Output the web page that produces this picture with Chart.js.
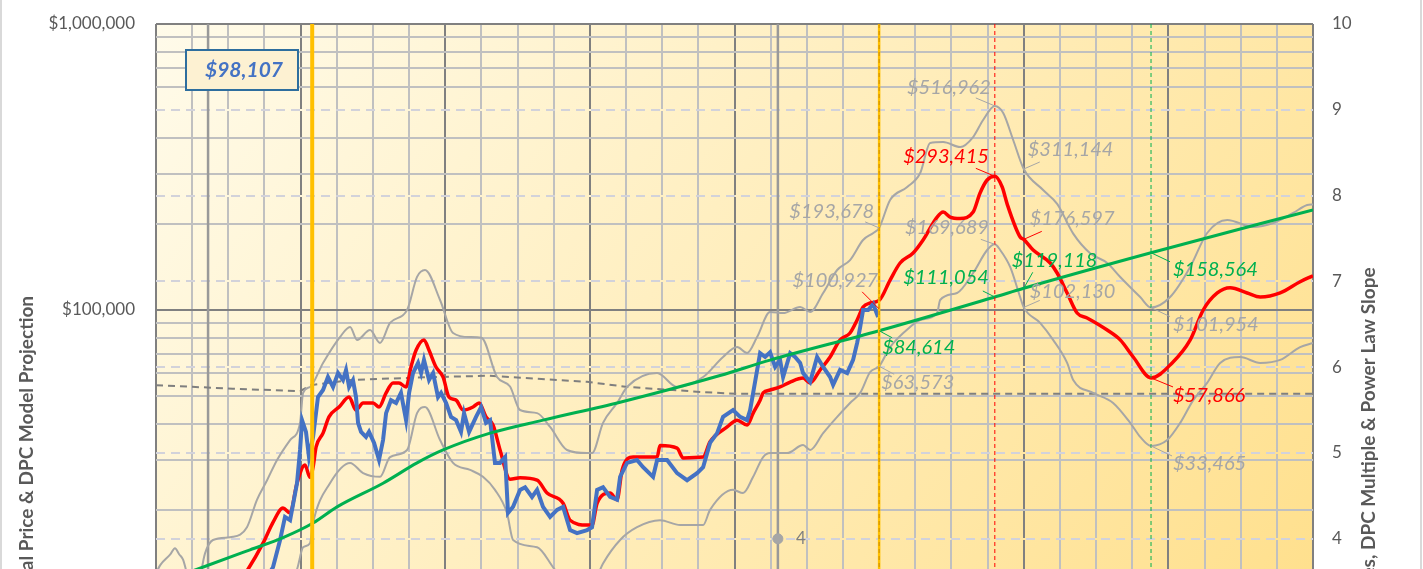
<!DOCTYPE html>
<html>
<head>
<meta charset="utf-8">
<title>DPC Model Projection</title>
<script src="https://cdn.jsdelivr.net/npm/chart.js@4.4.1/dist/chart.umd.min.js"></script>
<style>
html, body { margin: 0; padding: 0; background: #fff; overflow: hidden; }
#wrap { width: 1423px; height: 940px; }
</style>
</head>
<body>
<div id="wrap"><canvas id="myChart" width="1423" height="940"></canvas></div>
<script>
// actual price (blue)
var priceDates = [2020.00, 2020.10, 2020.19, 2020.30, 2020.45, 2020.55, 2020.62, 2020.70, 2020.76, 2020.809, 2020.858, 2020.892, 2020.927, 2020.975, 2020.996, 2021.010, 2021.037, 2021.058, 2021.086, 2021.120, 2021.155, 2021.189, 2021.224, 2021.259, 2021.293, 2021.314, 2021.335, 2021.362, 2021.383, 2021.397, 2021.418, 2021.452, 2021.473, 2021.508, 2021.542, 2021.570, 2021.591, 2021.625, 2021.660, 2021.694, 2021.729, 2021.750, 2021.777, 2021.812, 2021.833, 2021.853, 2021.888, 2021.916, 2021.950, 2021.971, 2022.006, 2022.040, 2022.075, 2022.109, 2022.130, 2022.165, 2022.213, 2022.248, 2022.282, 2022.310, 2022.344, 2022.379, 2022.414, 2022.434, 2022.469, 2022.517, 2022.552, 2022.600, 2022.635, 2022.676, 2022.725, 2022.773, 2022.815, 2022.863, 2022.911, 2022.981, 2023.015, 2023.050, 2023.091, 2023.140, 2023.188, 2023.209, 2023.257, 2023.326, 2023.368, 2023.437, 2023.465, 2023.534, 2023.603, 2023.672, 2023.741, 2023.783, 2023.831, 2023.880, 2023.921, 2023.990, 2024.039, 2024.087, 2024.108, 2024.129, 2024.177, 2024.212, 2024.246, 2024.281, 2024.315, 2024.336, 2024.385, 2024.419, 2024.454, 2024.474, 2024.523, 2024.571, 2024.613, 2024.661, 2024.682, 2024.730, 2024.779, 2024.820, 2024.848, 2024.869, 2024.889, 2024.924, 2024.959, 2024.993];
var priceValues = [7200, 9500, 5000, 8800, 9300, 9200, 11800, 10500, 11500, 12600, 15700, 18900, 18400, 24800, 32400, 41200, 37500, 30600, 36000, 49600, 52500, 58300, 53800, 60200, 56900, 61700, 53800, 56900, 49600, 40300, 37500, 36000, 37500, 34300, 29900, 35100, 43600, 48400, 47300, 51300, 41200, 51300, 60200, 65300, 60200, 66900, 56900, 60200, 49600, 51300, 47300, 42300, 41200, 37500, 43600, 37500, 42300, 45800, 40300, 41200, 29200, 29200, 30600, 19500, 20500, 23500, 24000, 22200, 23500, 20500, 18900, 20000, 20500, 17000, 16600, 17000, 17400, 23500, 24000, 22200, 21700, 26100, 29200, 29900, 28200, 26100, 29900, 29900, 26900, 25400, 26900, 28200, 34300, 37100, 42300, 44700, 42300, 41200, 44700, 51300, 70700, 68500, 71100, 63200, 66900, 58300, 70700, 68500, 65300, 60200, 56000, 68500, 63200, 58300, 54700, 61700, 60200, 66900, 76700, 87200, 100000, 100000, 105000, 94500];

// DPC model projection (red)
var modelDates = [2020.00, 2020.20, 2020.36, 2020.50, 2020.636, 2020.740, 2020.809, 2020.878, 2020.927, 2020.975, 2021.030, 2021.065, 2021.086, 2021.107, 2021.155, 2021.196, 2021.266, 2021.335, 2021.383, 2021.432, 2021.501, 2021.542, 2021.591, 2021.639, 2021.680, 2021.729, 2021.763, 2021.798, 2021.853, 2021.888, 2021.936, 2021.985, 2022.026, 2022.075, 2022.123, 2022.192, 2022.234, 2022.282, 2022.331, 2022.379, 2022.448, 2022.517, 2022.635, 2022.704, 2022.815, 2022.863, 2022.981, 2023.015, 2023.050, 2023.140, 2023.188, 2023.223, 2023.299, 2023.465, 2023.485, 2023.603, 2023.645, 2023.783, 2023.831, 2023.949, 2024.018, 2024.087, 2024.129, 2024.177, 2024.198, 2024.246, 2024.315, 2024.385, 2024.474, 2024.523, 2024.592, 2024.661, 2024.730, 2024.799, 2024.848, 2024.889, 2024.938, 2025.0, 2025.076, 2025.145, 2025.235, 2025.304, 2025.401, 2025.443, 2025.491, 2025.560, 2025.650, 2025.698, 2025.747, 2025.80, 2025.851, 2025.885, 2025.975, 2026.0, 2026.065, 2026.183, 2026.231, 2026.300, 2026.369, 2026.438, 2026.577, 2026.667, 2026.757, 2026.88, 2027.026, 2027.151, 2027.241, 2027.338, 2027.427, 2027.545, 2027.635, 2027.773, 2027.911, 2028.0];
var modelValues = [9500, 7500, 9000, 10000, 12400, 15300, 18100, 20300, 19500, 24800, 28700, 26000, 28200, 33200, 37100, 42300, 45800, 49600, 44700, 47300, 47300, 45800, 51300, 55600, 55600, 53800, 63200, 72300, 78600, 72300, 63200, 58300, 49600, 48400, 44700, 45800, 47300, 42300, 39600, 32400, 25600, 25900, 25400, 22900, 21100, 18400, 17700, 17700, 21100, 22900, 21700, 27600, 30600, 30600, 33600, 32900, 30400, 30600, 34600, 39000, 41200, 39600, 43600, 48400, 51300, 52500, 53800, 56000, 57800, 55600, 61700, 68500, 78600, 83100, 92300, 102400, 105800, 108000, 127300, 146000, 158200, 175700, 211400, 220000, 211400, 209000, 220000, 256600, 284800, 293415, 269200, 235000, 180000, 176597, 162000, 146000, 134700, 114700, 97600, 93800, 85100, 78600, 68500, 57866, 65300, 78600, 100000, 114700, 119600, 114700, 111000, 114700, 125600, 131700];

// power law (green)
var powerLawDates = [2020.0, 2020.304, 2020.650, 2020.878, 2021.086, 2021.252, 2021.570, 2021.805, 2021.985, 2022.310, 2022.676, 2023.209, 2023.900, 2024.246, 2025.0, 2025.80, 2026.0, 2026.88, 2028.0];
var powerLawValues = [11000, 12500, 14500, 16000, 18000, 20500, 24800, 29200, 32400, 37100, 41200, 47600, 59000, 66800, 84614, 111054, 119118, 158564, 224000];

// upper band (grey)
var upperDates = [2020.0, 2020.028, 2020.10, 2020.131, 2020.16, 2020.187, 2020.235, 2020.28, 2020.339, 2020.394, 2020.533, 2020.629, 2020.698, 2020.768, 2020.837, 2020.927, 2020.996, 2021.017, 2021.065, 2021.155, 2021.272, 2021.342, 2021.390, 2021.480, 2021.549, 2021.618, 2021.736, 2021.805, 2021.860, 2021.964, 2022.054, 2022.172, 2022.25, 2022.358, 2022.448, 2022.517, 2022.635, 2022.725, 2022.842, 2022.981, 2023.015, 2023.091, 2023.188, 2023.26, 2023.465, 2023.603, 2023.783, 2023.921, 2024.018, 2024.087, 2024.156, 2024.246, 2024.336, 2024.454, 2024.523, 2024.613, 2024.710, 2024.799, 2024.889, 2024.96, 2025.0, 2025.076, 2025.194, 2025.284, 2025.353, 2025.443, 2025.560, 2025.650, 2025.719, 2025.80, 2025.858, 2025.927, 2026.0, 2026.134, 2026.231, 2026.342, 2026.459, 2026.577, 2026.667, 2026.805, 2026.88, 2027.012, 2027.151, 2027.268, 2027.407, 2027.586, 2027.725, 2027.863, 2027.960, 2028.0];
var upperValues = [12000, 12800, 14000, 14700, 14000, 13400, 11000, 10500, 14100, 15700, 16100, 17400, 21700, 25400, 29900, 35100, 40300, 51300, 53800, 65300, 80400, 87200, 78600, 85100, 76700, 90100, 100000, 130500, 138000, 108400, 83100, 80400, 80000, 58300, 54000, 44700, 43600, 39000, 32400, 31600, 31600, 40300, 47300, 54000, 60200, 53800, 58300, 68500, 74200, 70700, 80400, 98400, 97600, 102400, 98400, 114700, 138000, 149500, 175700, 185900, 193678, 242500, 269200, 301300, 383700, 386800, 371500, 402600, 461600, 516962, 488500, 393000, 311144, 262800, 235000, 185000, 158000, 146000, 130500, 111000, 101954, 111000, 141400, 185900, 206300, 195100, 201500, 218400, 232900, 234000];

// lower band (grey)
var lowerDates = [2020.0, 2020.19, 2020.50, 2020.80, 2020.975, 2021.017, 2021.065, 2021.086, 2021.203, 2021.342, 2021.432, 2021.549, 2021.618, 2021.736, 2021.805, 2021.860, 2021.964, 2022.054, 2022.172, 2022.261, 2022.344, 2022.427, 2022.469, 2022.635, 2022.746, 2022.863, 2022.981, 2023.091, 2023.209, 2023.326, 2023.485, 2023.624, 2023.783, 2023.831, 2023.990, 2024.059, 2024.129, 2024.198, 2024.246, 2024.364, 2024.474, 2024.523, 2024.613, 2024.710, 2024.799, 2024.869, 2024.938, 2025.0, 2025.076, 2025.214, 2025.284, 2025.401, 2025.422, 2025.539, 2025.650, 2025.747, 2025.80, 2025.837, 2025.906, 2025.975, 2026.0, 2026.113, 2026.203, 2026.300, 2026.342, 2026.480, 2026.618, 2026.736, 2026.805, 2026.88, 2026.992, 2027.082, 2027.172, 2027.268, 2027.358, 2027.497, 2027.635, 2027.773, 2027.911, 2028.0];
var lowerValues = [5200, 3500, 6000, 9000, 12400, 14800, 15300, 18000, 24800, 29200, 26900, 26100, 30600, 32400, 43600, 45800, 35100, 29200, 27600, 26100, 23500, 19500, 15700, 14800, 12600, 10500, 10000, 13000, 15700, 17400, 18400, 17700, 17700, 20000, 23500, 22900, 26100, 30600, 31600, 31600, 33700, 32400, 37100, 42300, 47300, 51300, 60700, 63573, 74200, 87200, 92300, 97600, 108400, 114700, 134700, 162100, 169689, 162100, 141400, 111000, 102130, 90100, 78600, 65300, 56900, 51300, 47300, 40300, 36000, 33465, 35100, 40300, 48400, 55600, 65300, 68500, 65300, 66900, 74200, 76700];

// power law slope (dashed, right axis)
var slopeDates = [2020.0, 2020.53, 2020.996, 2021.07, 2021.34, 2021.81, 2022.30, 2022.98, 2023.26, 2023.78, 2024.02, 2025.0, 2028.0];
var slopeValues = [5.79, 5.75, 5.72, 5.79, 5.85, 5.88, 5.90, 5.83, 5.77, 5.71, 5.69, 5.69, 5.69];

var halvingDates = [2020.36, 2024.30];
var halvingNumbers = [3, 4];
var cycleStartDate = 2021.08;
var todayDate = 2025.0;
var peakDate = 2025.80;
var bottomDate = 2026.88;
var currentPrice = 98107;

var calloutDates = [2025.80, 2025.80, 2025.80, 2025.80, 2025.0, 2025.0, 2025.0, 2025.0, 2026.0, 2026.0, 2026.0, 2026.0, 2026.88, 2026.88, 2026.88, 2026.88];
var calloutValues = [516962, 293415, 169689, 111054, 193678, 100927, 84614, 63573, 311144, 176597, 119118, 102130, 101954, 57866, 158564, 33465];

var yearTicks = [2020, 2021, 2022, 2023, 2024, 2025, 2026, 2027, 2028];

// label placement, kept apart from the values
var GREY = '#A6A6A6', RED = '#FF0000', GREEN = '#00B050';
var calloutStyle = [
    {c: GREY, l: GREY, dx: -4, dy: -18, a: 'right', lx: -19, ly: -8},
    {c: RED, l: RED, dx: -6, dy: -20, a: 'right', lx: -19, ly: -8},
    {c: GREY, l: GREY, dx: -6, dy: -17, a: 'right', lx: -14, ly: -5},
    {c: GREEN, l: GREEN, dx: -6, dy: -19, a: 'right', lx: -12, ly: -6},
    {c: GREY, l: GREY, dx: -5, dy: -16, a: 'right', lx: -14, ly: -6},
    {c: GREY, l: RED, dx: -1, dy: -28, a: 'right', lx: -17, ly: -17},
    {c: GREEN, l: GREEN, dx: 3, dy: 17, a: 'left', lx: 13, ly: 7},
    {c: GREY, l: GREY, dx: 2, dy: 16, a: 'left', lx: 15, ly: 8},
    {c: GREY, l: GREY, dx: 4, dy: -19, a: 'left', lx: 16, ly: -7},
    {c: GREY, l: RED, dx: 6, dy: -21, a: 'left', lx: 18, ly: -8},
    {c: GREEN, l: GREEN, dx: -12, dy: -28, a: 'left', lx: 9, ly: -16},
    {c: GREY, l: GREY, dx: 6, dy: -16, a: 'left', lx: 16, ly: -7},
    {c: GREY, l: GREY, dx: 22, dy: 17, a: 'left', lx: 19, ly: 9},
    {c: RED, l: RED, dx: 22, dy: 18, a: 'left', lx: 22, ly: 9},
    {c: GREEN, l: GREEN, dx: 22, dy: 17, a: 'left', lx: 19, ly: 9},
    {c: GREY, l: GREY, dx: 22, dy: 18, a: 'left', lx: 21, ly: 10}
];

function pts(dates, values) {
    return dates.map(function (d, i) { return {x: d, y: values[i]}; });
}
function money(v) {
    return '$' + Math.round(v).toLocaleString('en-US');
}
function isDecade(v) {
    var l = Math.log10(v);
    return Math.abs(l - Math.round(l)) < 1e-9;
}

Chart.defaults.font.family = 'Lato, "Open Sans", sans-serif';
Chart.defaults.color = '#595959';

function plotGradient(c, a) {
    var g = c.createLinearGradient(a.left, a.top, a.right, a.bottom);
    g.addColorStop(0, '#FFFBEA');
    g.addColorStop(1, '#FFDC80');
    return g;
}

var decor = {
    id: 'decor',
    beforeDraw: function (chart) {
        var c = chart.ctx, a = chart.chartArea;
        c.save();
        c.fillStyle = '#ffffff';
        c.fillRect(0, 0, chart.width, chart.height);
        c.fillStyle = plotGradient(c, a);
        c.fillRect(a.left, a.top, a.right - a.left, a.bottom - a.top);
        c.strokeStyle = '#D9D9D9';
        c.lineWidth = 2;
        c.beginPath();
        c.moveTo(1, 0); c.lineTo(1, chart.height);
        c.moveTo(chart.width - 2, 0); c.lineTo(chart.width - 2, chart.height);
        c.stroke();
        c.restore();
    },
    beforeDatasetsDraw: function (chart) {
        var c = chart.ctx, a = chart.chartArea, x = chart.scales.x, r = chart.scales.y1;
        c.save();
        r.ticks.forEach(function (t) {
            if (t.value <= r.min || t.value >= r.max) return;
            var py = Math.round(r.getPixelForValue(t.value));
            c.setLineDash([]);
            c.strokeStyle = plotGradient(c, a);
            c.lineWidth = 2;
            c.beginPath(); c.moveTo(a.left + 1, py); c.lineTo(a.right - 1, py); c.stroke();
            c.setLineDash([9, 6]);
            c.strokeStyle = '#D2D2DA';
            c.beginPath(); c.moveTo(a.left, py); c.lineTo(a.right, py); c.stroke();
        });
        c.setLineDash([]);
        c.strokeStyle = '#999999';
        c.lineWidth = 2.5;
        halvingDates.forEach(function (d) {
            var px = x.getPixelForValue(d);
            c.beginPath(); c.moveTo(px, a.top); c.lineTo(px, a.bottom); c.stroke();
        });
        c.restore();
    },
    afterDatasetsDraw: function (chart) {
        var c = chart.ctx, a = chart.chartArea, x = chart.scales.x;
        function vline(d, color, w, dash) {
            var px = x.getPixelForValue(d);
            c.strokeStyle = color; c.lineWidth = w; c.setLineDash(dash);
            c.beginPath(); c.moveTo(px, a.top); c.lineTo(px, a.bottom); c.stroke();
        }
        c.save();
        vline(cycleStartDate, '#FFC000', 4, []);
        vline(todayDate, '#FFC000', 2.5, []);
        vline(todayDate, '#C88A00', 1, [4, 3]);
        vline(peakDate, '#FF0000', 1, [4, 3]);
        vline(bottomDate, '#00B050', 1, [4, 3]);
        c.restore();
    },
    afterDraw: function (chart) {
        var c = chart.ctx, a = chart.chartArea, x = chart.scales.x, y = chart.scales.y, r = chart.scales.y1;
        var midY = (a.top + a.bottom) / 2;
        c.save();
        // axis titles, both read bottom to top
        c.fillStyle = '#595959';
        c.font = 'bold 19px Lato, sans-serif';
        c.textAlign = 'center';
        c.textBaseline = 'middle';
        c.save(); c.translate(27, midY); c.rotate(-Math.PI / 2);
        c.fillText('Actual Price & DPC Model Projection', 0, 0); c.restore();
        c.save(); c.translate(1369, midY); c.rotate(-Math.PI / 2);
        c.fillText('Multiples, DPC Multiple & Power Law Slope', 0, 0); c.restore();

        // halving numbers
        c.font = '17px Lato, sans-serif';
        c.fillStyle = '#7F7F7F';
        c.textAlign = 'left';
        halvingDates.forEach(function (d, i) {
            c.fillText(String(halvingNumbers[i]), x.getPixelForValue(d) + 18, r.getPixelForValue(halvingNumbers[i]));
        });

        // callouts
        c.font = 'italic 20px Lato, sans-serif';
        c.lineWidth = 1;
        calloutDates.forEach(function (d, i) {
            var s = calloutStyle[i];
            var px = x.getPixelForValue(d), py = y.getPixelForValue(calloutValues[i]);
            c.strokeStyle = s.l;
            c.beginPath(); c.moveTo(px, py); c.lineTo(px + s.lx, py + s.ly); c.stroke();
            c.fillStyle = s.c;
            c.textAlign = s.a;
            c.fillText(money(calloutValues[i]), px + s.dx, py + s.dy);
        });

        // current price box
        var bx = a.left + 30, by = a.top + 26, bw = 112, bh = 40;
        c.fillStyle = '#FDF1D2';
        c.fillRect(bx, by, bw, bh);
        c.strokeStyle = '#2E6E9E';
        c.lineWidth = 2;
        c.strokeRect(bx, by, bw, bh);
        c.fillStyle = '#4472C4';
        c.font = 'bold italic 21px Lato, sans-serif';
        c.textAlign = 'center';
        c.fillText(money(currentPrice), bx + bw / 2 + 2, by + bh / 2);
        c.restore();
    }
};

var ctx = document.getElementById('myChart');
var myChart = new Chart(ctx, {
    type: 'line',
    data: {
        datasets: [
            {
                label: 'Halving',
                data: pts(halvingDates, halvingNumbers),
                yAxisID: 'y1',
                showLine: false,
                pointRadius: 5,
                pointBackgroundColor: '#A6A6A6',
                pointBorderColor: '#A6A6A6',
                order: 0
            },
            {
                label: 'Power Law',
                data: pts(powerLawDates, powerLawValues),
                yAxisID: 'y',
                borderColor: '#00B050',
                borderWidth: 3,
                pointRadius: 0,
                cubicInterpolationMode: 'monotone',
                order: 1
            },
            {
                label: 'Actual Price',
                data: pts(priceDates, priceValues),
                yAxisID: 'y',
                borderColor: '#4472C4',
                borderWidth: 4,
                pointRadius: 0,
                order: 2
            },
            {
                label: 'DPC Model',
                data: pts(modelDates, modelValues),
                yAxisID: 'y',
                borderColor: '#FF0000',
                borderWidth: 3.5,
                pointRadius: 0,
                cubicInterpolationMode: 'monotone',
                order: 3
            },
            {
                label: 'Upper Multiple',
                data: pts(upperDates, upperValues),
                yAxisID: 'y',
                borderColor: '#A6A6A6',
                borderWidth: 2,
                pointRadius: 0,
                cubicInterpolationMode: 'monotone',
                order: 4
            },
            {
                label: 'Lower Multiple',
                data: pts(lowerDates, lowerValues),
                yAxisID: 'y',
                borderColor: '#A6A6A6',
                borderWidth: 2,
                pointRadius: 0,
                cubicInterpolationMode: 'monotone',
                order: 5
            },
            {
                label: 'Power Law Slope',
                data: pts(slopeDates, slopeValues),
                yAxisID: 'y1',
                borderColor: '#7F7F7F',
                borderWidth: 2,
                borderDash: [7, 5],
                pointRadius: 0,
                order: 6
            }
        ]
    },
    options: {
        responsive: false,
        animation: false,
        layout: { padding: { top: 24, left: 0, right: 0, bottom: 18 } },
        plugins: {
            legend: { display: false },
            tooltip: { enabled: false }
        },
        scales: {
            x: {
                type: 'linear',
                min: 2020,
                max: 2028,
                ticks: {
                    stepSize: 0.25,
                    autoSkip: false,
                    maxRotation: 0,
                    font: { size: 17 },
                    callback: function (v) {
                        return yearTicks.indexOf(v) >= 0 ? 'Jan-' + String(v).slice(2) : '';
                    }
                },
                grid: {
                    lineWidth: 2,
                    drawTicks: false,
                    color: function (c) { return Number.isInteger(c.tick.value) ? '#808080' : '#C0C0C0'; }
                },
                border: { display: false },
                afterFit: function (s) { s.height = 40; s.paddingLeft = 0; s.paddingRight = 0; }
            },
            y: {
                type: 'logarithmic',
                position: 'left',
                min: 1000,
                max: 1000000,
                afterBuildTicks: function (s) {
                    s.ticks = s.ticks.filter(function (t) {
                        var m = t.value / Math.pow(10, Math.floor(Math.log10(t.value) + 1e-9));
                        return Math.abs(m - Math.round(m)) < 1e-6;
                    });
                },
                ticks: {
                    autoSkip: false,
                    padding: 21,
                    font: { size: 17 },
                    callback: function (v) { return isDecade(v) ? money(v) : ''; }
                },
                grid: {
                    lineWidth: 2,
                    drawTicks: false,
                    color: function (c) { return isDecade(c.tick.value) ? '#808080' : '#C0C0C0'; }
                },
                border: { display: false },
                afterFit: function (s) { s.width = 156; s.paddingTop = 0; s.paddingBottom = 0; }
            },
            y1: {
                type: 'linear',
                position: 'right',
                min: 0,
                max: 10,
                ticks: { stepSize: 1, padding: 19, font: { size: 17 } },
                grid: { display: false, drawTicks: false },
                border: { display: false },
                afterFit: function (s) { s.width = 110; s.paddingTop = 0; s.paddingBottom = 0; }
            }
        }
    },
    plugins: [decor]
});
</script>
</body>
</html>
